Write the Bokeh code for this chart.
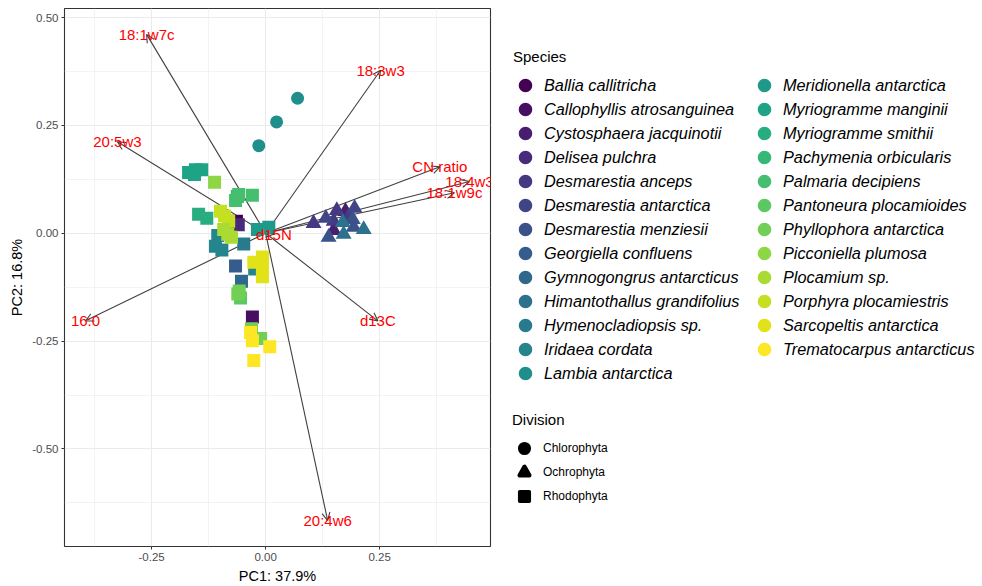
from bokeh.plotting import figure
from bokeh.layouts import row
from bokeh.models import (Range1d, FixedTicker, NumeralTickFormatter, Arrow, OpenHead,
                          LabelSet, ColumnDataSource, Legend, LegendItem)
from bokeh.core.properties import value
from bokeh.palettes import viridis
from bokeh.embed import file_html
from bokeh.resources import INLINE

# ---- categories -------------------------------------------------------------
species = [
    "Ballia callitricha", "Callophyllis atrosanguinea", "Cystosphaera jacquinotii",
    "Delisea pulchra", "Desmarestia anceps", "Desmarestia antarctica",
    "Desmarestia menziesii", "Georgiella confluens", "Gymnogongrus antarcticus",
    "Himantothallus grandifolius", "Hymenocladiopsis sp.", "Iridaea cordata",
    "Lambia antarctica", "Meridionella antarctica", "Myriogramme manginii",
    "Myriogramme smithii", "Pachymenia orbicularis", "Palmaria decipiens",
    "Pantoneura plocamioides", "Phyllophora antarctica", "Picconiella plumosa",
    "Plocamium sp.", "Porphyra plocamiestris", "Sarcopeltis antarctica",
    "Trematocarpus antarcticus",
]
divisions = ["Chlorophyta", "Ochrophyta", "Rhodophyta"]

# ---- sample scores (PC1, PC2) -------------------------------------------------
pt_species = [
    # Rhodophyta
    "Ballia callitricha", "Delisea pulchra",
    "Myriogramme manginii", "Myriogramme manginii", "Myriogramme manginii", "Myriogramme manginii",
    "Picconiella plumosa",
    "Pachymenia orbicularis", "Palmaria decipiens", "Palmaria decipiens", "Palmaria decipiens",
    "Myriogramme smithii", "Myriogramme smithii",
    "Porphyra plocamiestris", "Porphyra plocamiestris", "Porphyra plocamiestris",
    "Meridionella antarctica", "Meridionella antarctica",
    "Iridaea cordata", "Iridaea cordata", "Iridaea cordata", "Hymenocladiopsis sp.",
    "Plocamium sp.", "Plocamium sp.", "Plocamium sp.",
    "Georgiella confluens", "Gymnogongrus antarcticus",
    "Iridaea cordata",
    "Sarcopeltis antarctica", "Sarcopeltis antarctica", "Sarcopeltis antarctica", "Sarcopeltis antarctica",
    "Pantoneura plocamioides", "Phyllophora antarctica", "Phyllophora antarctica",
    "Callophyllis atrosanguinea",
    "Phyllophora antarctica", "Phyllophora antarctica",
    "Trematocarpus antarcticus", "Trematocarpus antarcticus",
    "Trematocarpus antarcticus", "Trematocarpus antarcticus",
    # Ochrophyta
    "Cystosphaera jacquinotii", "Cystosphaera jacquinotii",
    "Desmarestia anceps", "Desmarestia anceps", "Desmarestia anceps", "Desmarestia anceps",
    "Desmarestia antarctica", "Desmarestia antarctica",
    "Desmarestia menziesii", "Desmarestia menziesii", "Desmarestia menziesii",
    "Himantothallus grandifolius", "Himantothallus grandifolius", "Himantothallus grandifolius",
    # Chlorophyta
    "Lambia antarctica", "Lambia antarctica", "Lambia antarctica",
]
pt_division = ["Rhodophyta"] * 42 + ["Ochrophyta"] * 14 + ["Chlorophyta"] * 3
pc1 = [
    -0.064, -0.060,
    -0.169, -0.154, -0.140, -0.156,
    -0.112,
    -0.062, -0.059, -0.029, -0.066,
    -0.147, -0.129,
    -0.099, -0.081, -0.090,
    -0.018, 0.007,
    -0.105, -0.110, -0.096, -0.048,
    -0.092, -0.083, -0.075,
    -0.066, -0.053,
    -0.024,
    -0.026, -0.007, -0.007, -0.007,
    -0.055, -0.061, -0.058,
    -0.029,
    -0.031, -0.011,
    -0.033, -0.029, 0.009, -0.026,
    0.175, 0.149,
    0.105, 0.156, 0.182, 0.149,
    0.132, 0.195,
    0.191, 0.138, 0.193,
    0.169, 0.171, 0.215,
    0.070, 0.024, -0.015,
]
pc2 = [
    0.028, 0.020,
    0.141, 0.147, 0.147, 0.136,
    0.118,
    0.085, 0.090, 0.088, 0.076,
    0.044, 0.035,
    0.051, 0.028, 0.040,
    0.009, 0.014,
    -0.005, -0.030, -0.039, -0.025,
    0.009, -0.002, -0.009,
    -0.076, -0.111,
    -0.083,
    -0.067, -0.055, -0.080, -0.101,
    -0.150, -0.141, -0.134,
    -0.194,
    -0.221, -0.244,
    -0.230, -0.249, -0.263, -0.295,
    0.051, 0.007,
    0.023, 0.053, 0.039, 0.028,
    0.035, 0.058,
    0.032, -0.009, 0.014,
    0.025, -0.002, 0.009,
    0.313, 0.258, 0.203,
]

# ---- variable loadings -------------------------------------------------------
load_names = ["18:1w7c", "18:3w3", "20:5w3", "CN ratio", "18:4w3",
              "18:1w9c", "16:0", "d13C", "20:4w6", "d15N"]
load_pc1 = [-0.261, 0.252, -0.325, 0.382, 0.447, 0.414, -0.395, 0.246, 0.136, 0.018]
load_pc2 = [0.461, 0.378, 0.212, 0.154, 0.120, 0.094, -0.203, -0.203, -0.666, -0.002]

# ---- axes -------------------------------------------------------------------
x_ticks = [-0.25, 0.0, 0.25]
x_minor = [-0.375, -0.125, 0.125, 0.375]
y_ticks = [-0.5, -0.25, 0.0, 0.25, 0.5]
y_minor = [-0.625, -0.375, -0.125, 0.125, 0.375]
x_title = "PC1: 37.9%"
y_title = "PC2: 16.8%"

FONT = "Liberation Sans"
NAN = float("nan")
palette = list(viridis(len(species)))
colour_of = dict(zip(species, palette))
marker_of = {"Chlorophyta": "circle", "Ochrophyta": "triangle", "Rhodophyta": "square"}
size_of = {"Chlorophyta": 13, "Ochrophyta": 16, "Rhodophyta": 13}

p = figure(width=495, height=586, output_backend="svg", toolbar_location=None,
           x_range=Range1d(-0.441, 0.493), y_range=Range1d(-0.726, 0.521),
           min_border_left=64, min_border_right=5, min_border_top=8,
           min_border_bottom=37)
p.background_fill_color = "white"
p.border_fill_color = "white"
p.outline_line_color = "#333333"
p.outline_line_width = 1.1

p.xaxis.ticker = FixedTicker(ticks=x_ticks, minor_ticks=x_minor)
p.yaxis.ticker = FixedTicker(ticks=y_ticks, minor_ticks=y_minor)
for ax in (p.xaxis[0], p.yaxis[0]):
    ax.formatter = NumeralTickFormatter(format="0.00")
    ax.axis_line_color = None
    ax.major_tick_line_color = "#333333"
    ax.major_tick_out = 3
    ax.major_tick_in = 0
    ax.minor_tick_out = 0
    ax.minor_tick_in = 0
    ax.major_label_text_font = FONT
    ax.major_label_text_font_size = "11.5px"
    ax.major_label_text_color = "#4D4D4D"
    ax.axis_label_text_font = FONT
    ax.axis_label_text_font_size = "14.5px"
    ax.axis_label_text_font_style = "normal"
    ax.axis_label_text_color = "black"
    ax.major_label_standoff = 3
    ax.axis_label_standoff = 4
p.xaxis.axis_label = x_title
p.yaxis.axis_label = y_title

for g in (p.xgrid[0], p.ygrid[0]):
    g.grid_line_color = "#EBEBEB"
    g.grid_line_width = 1.1
    g.minor_grid_line_color = "#EBEBEB"
    g.minor_grid_line_width = 0.6

# loading arrows, beneath the sample points
lsrc = ColumnDataSource(dict(name=load_names, pc1=load_pc1, pc2=load_pc2))
arrows = Arrow(end=OpenHead(size=8, line_color="#404040", line_width=1.1),
               x_start=0, y_start=0, x_end="pc1", y_end="pc2", source=lsrc,
               line_color="#404040", line_width=1.1, level="underlay")
p.add_layout(arrows)

# sample points, one layer per division
for div in ["Rhodophyta", "Ochrophyta", "Chlorophyta"]:
    idx = [i for i, d in enumerate(pt_division) if d == div]
    src = ColumnDataSource(dict(
        pc1=[pc1[i] for i in idx], pc2=[pc2[i] for i in idx],
        species=[pt_species[i] for i in idx],
        colour=[colour_of[pt_species[i]] for i in idx]))
    p.scatter("pc1", "pc2", source=src, marker=marker_of[div], size=size_of[div],
              fill_color="colour", line_color="colour", line_width=0)

# loading labels on top
p.add_layout(LabelSet(x="pc1", y="pc2", text="name", source=lsrc,
                      text_align="center", text_baseline="middle",
                      text_color="#FF0000", text_font=value(FONT),
                      text_font_size="15px"))

# ---- legend panel (frame is aligned with the main plot's frame) ---------------
lp = figure(width=487, height=586, output_backend="svg", toolbar_location=None,
            x_axis_type=None, y_axis_type=None, x_range=Range1d(0, 1), y_range=Range1d(0, 1),
            min_border_left=0, min_border_right=0, min_border_top=8, min_border_bottom=37)
lp.outline_line_color = None
lp.grid.visible = False
lp.background_fill_color = "white"
lp.border_fill_color = "white"

# key renderers hold a single undefined point, so only their legend swatch shows
sp_r = [lp.scatter(x=[NAN], y=[NAN], marker="circle", fill_color=c, line_color=c,
                   line_width=4) for c in palette]
dv_widths = {"Chlorophyta": 3.5, "Ochrophyta": 4.5, "Rhodophyta": 3.5}
dv_r = [lp.scatter(x=[NAN], y=[NAN], marker=marker_of[d], fill_color="black",
                   line_color="black", line_width=dv_widths[d], line_join="round")
        for d in divisions]


def make_legend(items, loc, title=None, italic=True, fsize="16.3px"):
    kw = dict(items=items, location=loc, glyph_width=24, glyph_height=24,
              spacing=0, label_standoff=7, padding=0, margin=0,
              border_line_color=None, background_fill_alpha=0,
              label_text_font=FONT, label_text_font_size=fsize,
              label_text_font_style="italic" if italic else "normal",
              label_text_color="black")
    if title:
        kw.update(title=title, title_text_font=FONT, title_text_font_size="15px",
                  title_text_font_style="normal", title_text_color="black",
                  title_standoff=8)
    return Legend(**kw)


half = 13
leg1 = make_legend([LegendItem(label=s, renderers=[r]) for s, r in zip(species[:half], sp_r[:half])],
                   (18, 161), title="Species")
leg2 = make_legend([LegendItem(label=s, renderers=[r]) for s, r in zip(species[half:], sp_r[half:])],
                   (257, 185))
leg3 = make_legend([LegendItem(label=d, renderers=[r]) for d, r in zip(divisions, dv_r)],
                   (17, 38.5), title="Division", italic=False, fsize="12px")
for lg in (leg1, leg2, leg3):
    lp.add_layout(lg)

layout = row(p, lp, spacing=0)
open("out.html", "w").write(file_html(layout, INLINE))
